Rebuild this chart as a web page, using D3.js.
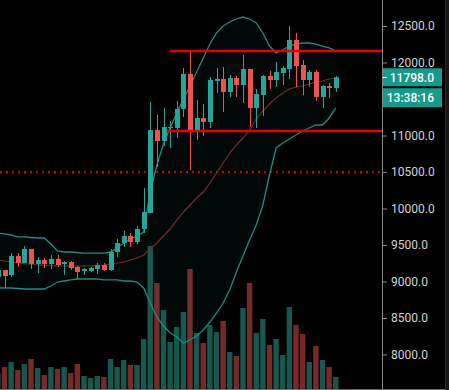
<!DOCTYPE html>
<html><head><meta charset="utf-8">
<script src="https://cdn.jsdelivr.net/npm/d3@7/dist/d3.min.js"></script>
<style>html,body{margin:0;padding:0;background:#000;overflow:hidden}svg{display:block}</style>
</head><body><svg id="c" width="449" height="390"></svg>
<script>
// candle index -1..50
const candleIndex = d3.range(-1, 51);
const opens  = [9062,9157,9089,9349,9253,9445,9240,9294,9240,9308,9240,9267,9199,9144,9144,9171,9226,9157,9404,9527,9623,9541,9719,9938,11075,10925,11103,11103,11363,11842,11062,11240,11185,11747,11774,11596,11788,11692,11911,11377,11555,11815,11760,11856,11911,12308,11966,11760,11870,11527,11678,11651];
const highs  = [9185,9157,9390,9390,9486,9445,9336,9322,9363,9363,9281,9281,9212,9185,9199,9253,9253,9445,9582,9692,9664,9760,10281,11459,11281,11377,11199,11473,11925,12171,11486,11431,11801,11925,11938,11829,11815,12103,11911,11637,11829,11884,12007,11952,12500,12404,12034,11897,11897,11692,11719,11815];
const lows   = [9021,8911,9062,9199,9253,9171,9116,9185,9171,9199,9089,9157,9034,9089,9130,9103,9144,9144,9336,9473,9473,9514,9664,9938,10568,10856,10829,10966,11253,10527,10938,10993,11103,11582,11322,11527,11527,11445,11116,11103,11267,11637,11664,11692,11774,11664,11555,11664,11473,11377,11514,11596];
const closes = [9157,9075,9349,9253,9445,9240,9294,9240,9308,9226,9267,9185,9130,9171,9185,9226,9157,9404,9527,9623,9541,9719,9952,11075,10925,11116,11116,11363,11842,11062,11240,11185,11760,11774,11596,11788,11692,11911,11377,11568,11815,11760,11870,11925,12308,11952,11760,11870,11527,11678,11651,11798];
const volumes = [16,22,27,19,25,30,21,14,22,20,22,16,25,13,11,13,12,30,22,29,24,24,50,143,106,79,47,62,77,120,56,46,64,57,68,37,33,81,106,56,70,44,50,34,82,64,55,27,43,29,22,12];
const bbUpper = [9664,9651,9637,9610,9610,9603,9596,9596,9514,9418,9404,9404,9397,9390,9390,9390,9390,9404,9459,9527,9582,9623,9678,10226,10596,10884,11103,11308,11500,11678,11870,12062,12253,12404,12500,12555,12596,12623,12596,12541,12404,12226,12130,12171,12226,12253,12267,12267,12253,12226,12199,12158];
const bbMiddle = [9294,9281,9267,9253,9240,9240,9226,9226,9219,9212,9212,9212,9212,9212,9212,9219,9226,9240,9253,9267,9294,9322,9363,9445,9527,9623,9719,9842,9952,10048,10144,10226,10349,10486,10623,10760,10870,10966,11075,11226,11336,11432,11514,11582,11637,11664,11678,11706,11733,11747,11774,11788];
const bbLower = [8911,8911,8911,8904,8897,8897,8897,8897,8938,8993,9007,9021,9034,9034,9034,9034,9021,9021,9021,9007,9007,8993,8911,8705,8514,8390,8294,8240,8157,8199,8253,8336,8445,8568,8705,8884,9130,9349,9568,9774,10048,10459,10829,10897,10952,11007,11062,11103,11144,11144,11240,11377];
const priceTicks = [8000,8500,9000,9500,10000,10500,11000,12000,12500];
const levelValues = [12158, 11062];
const levelStarts = [25, 24.5];
const dottedLevel = 10500;
const lastPrice = 11798.0;
const clockText = "13:38:16";

const W = 449, H = 390, axisX = 382, baseY = 389;
const svg = d3.select("#c");
svg.append("rect").attr("width", W).attr("height", H).attr("fill", "#000");

const x = d3.scaleLinear().domain([0, 50]).range([4.5, 335.75]);
const y = d3.scaleLinear().domain([8000, 12500]).range([354.5, 26]);
const yv = d3.scaleLinear().domain([0, 143]).range([baseY, 246]);

const data = candleIndex.map((k, i) => ({k, o: opens[i], h: highs[i], l: lows[i], c: closes[i], v: volumes[i],
  up: bbUpper[i], mid: bbMiddle[i], lo: bbLower[i]}));

const plot = svg.append("g");
plot.append("clipPath").attr("id", "pc").append("rect").attr("x", 0).attr("y", 0).attr("width", axisX).attr("height", baseY);
const g = plot.append("g").attr("clip-path", "url(#pc)");

const UPC = "#26a69a", DNC = "#ef5350";

// volume
g.selectAll("rect.vol").data(data).join("rect").attr("class", "vol")
  .attr("x", d => x(d.k) - 2.7).attr("width", 5.4)
  .attr("y", d => yv(d.v)).attr("height", d => baseY - yv(d.v))
  .attr("fill", d => d.c >= d.o ? "#17574f" : "#782a29");

// bollinger fill
const area = d3.area().x(d => x(d.k)).y0(d => y(d.lo)).y1(d => y(d.up));
g.append("path").datum(data).attr("d", area).attr("fill", "rgba(38,166,154,0.05)");

// dotted level
g.append("line").attr("x1", 0).attr("x2", axisX).attr("y1", y(dottedLevel)).attr("y2", y(dottedLevel))
  .attr("stroke", "#d40000").attr("stroke-width", 2).attr("stroke-dasharray", "2,4");

const line = acc => d3.line().x(d => x(d.k)).y(d => y(acc(d)));
g.append("path").datum(data).attr("d", line(d => d.mid)).attr("fill", "none").attr("stroke", "#732b2b").attr("stroke-width", 1.2);
g.append("path").datum(data).attr("d", line(d => d.up)).attr("fill", "none").attr("stroke", "#1f8c80").attr("stroke-width", 1.3);
g.append("path").datum(data).attr("d", line(d => d.lo)).attr("fill", "none").attr("stroke", "#1f8c80").attr("stroke-width", 1.3);

// candles
const cg = g.selectAll("g.c").data(data).join("g").attr("class", "c");
cg.append("line").attr("x1", d => Math.round(x(d.k)) + 0.5).attr("x2", d => Math.round(x(d.k)) + 0.5)
  .attr("y1", d => y(d.h)).attr("y2", d => y(d.l))
  .attr("stroke", d => d.c >= d.o ? UPC : DNC).attr("stroke-width", 1);
cg.append("rect").attr("x", d => Math.round(x(d.k)) + 0.5 - 2.5).attr("width", 5)
  .attr("y", d => y(Math.max(d.o, d.c)))
  .attr("height", d => Math.max(1, Math.abs(y(d.o) - y(d.c))))
  .attr("fill", d => d.c >= d.o ? UPC : DNC);

// horizontal levels
g.selectAll("line.lvl").data(levelValues).join("line").attr("class", "lvl")
  .attr("x1", (d, i) => x(levelStarts[i])).attr("x2", axisX)
  .attr("y1", d => y(d)).attr("y2", d => y(d))
  .attr("stroke", "#e80000").attr("stroke-width", 2.6);

// axis
const ax = svg.append("g").attr("transform", `translate(${axisX},0)`)
  .call(d3.axisRight(y).tickValues(priceTicks).tickFormat(d => d.toFixed(1)).tickSize(5).tickPadding(4));
ax.select(".domain").remove();
ax.selectAll(".tick line").attr("stroke", "#8a8a8a");
ax.selectAll(".tick text").attr("fill", "#d2d2d2").attr("font-family", "Roboto, 'Liberation Sans', sans-serif").attr("font-size", 12);

svg.append("line").attr("x1", axisX + 0.5).attr("x2", axisX + 0.5).attr("y1", 0).attr("y2", H).attr("stroke", "#8a8a8a");
svg.append("line").attr("x1", 0).attr("x2", 445).attr("y1", baseY + 0.5).attr("y2", baseY + 0.5).attr("stroke", "#6a6a6a");
svg.append("rect").attr("x", 445).attr("y", 0).attr("width", 4).attr("height", H).attr("fill", "#161616");
svg.append("line").attr("x1", 445.5).attr("x2", 445.5).attr("y1", 0).attr("y2", H).attr("stroke", "#2c2c2c");

// price tag
const ty = y(lastPrice);
const TAGC = "#159a8b";
svg.append("rect").attr("x", axisX + 1).attr("y", ty - 9).attr("width", 59).attr("height", 18).attr("fill", TAGC);
svg.append("rect").attr("x", axisX + 1).attr("y", ty + 11).attr("width", 59).attr("height", 19).attr("fill", TAGC);
svg.append("line").attr("x1", axisX + 1).attr("x2", axisX + 5).attr("y1", Math.round(ty) + 0.5).attr("y2", Math.round(ty) + 0.5).attr("stroke", "#fff");
svg.append("text").attr("x", 434).attr("y", ty).attr("dy", "0.36em").attr("text-anchor", "end")
  .attr("fill", "#fff").attr("font-family", "Roboto, sans-serif").attr("font-size", 12).attr("font-weight", 500)
  .text(lastPrice.toFixed(1));
svg.append("text").attr("x", 434).attr("y", ty + 20.5).attr("dy", "0.36em").attr("text-anchor", "end")
  .attr("fill", "#fff").attr("font-family", "Roboto, sans-serif").attr("font-size", 12).attr("font-weight", 500)
  .text(clockText);
</script>
</body></html>
